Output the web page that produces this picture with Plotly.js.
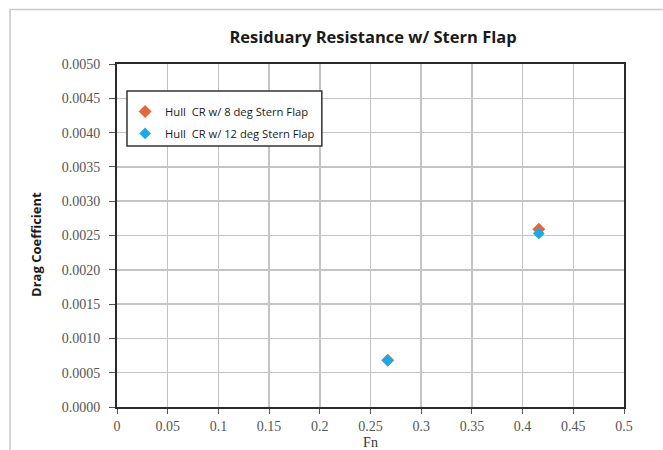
<!DOCTYPE html>
<html>
<head>
<meta charset="utf-8">
<script src="https://cdn.plot.ly/plotly-3.0.1.min.js"></script>
<style>html,body{margin:0;padding:0;background:#fff;}#chart{width:663px;height:450px;}</style>
</head>
<body>
<div id="chart"></div>
<script>
const seriesNames = ["Hull  CR w/ 8 deg Stern Flap", "Hull  CR w/ 12 deg Stern Flap"];
const fn8 = [0.267, 0.416];
const cd8 = [0.00068, 0.00259];
const fn12 = [0.267, 0.416];
const cd12 = [0.00068, 0.00253];
const xTicks = [0, 0.05, 0.1, 0.15, 0.2, 0.25, 0.3, 0.35, 0.4, 0.45, 0.5];
const xTickText = ["0", "0.05", "0.1", "0.15", "0.2", "0.25", "0.3", "0.35", "0.4", "0.45", "0.5"];
const yTicks = [0, 0.0005, 0.001, 0.0015, 0.002, 0.0025, 0.003, 0.0035, 0.004, 0.0045, 0.005];

const serif = "'Liberation Serif', 'DejaVu Serif', serif";
const sans = "'Open Sans', 'Noto Sans', sans-serif";

const traces = [
  {x: fn8, y: cd8, name: seriesNames[0], legendgroup: "g1", mode: "markers", type: "scatter",
   marker: {symbol: "diamond", size: 10, color: "#E2693A"}},
  {x: fn12, y: cd12, name: seriesNames[1], legendgroup: "g2", mode: "markers", type: "scatter",
   marker: {symbol: "diamond", size: 9, color: "#1CA9E6"}}
];

const layout = {
  width: 663, height: 450,
  margin: {l: 117, r: 39, t: 64, b: 43},
  paper_bgcolor: "#fff", plot_bgcolor: "#fff",
  title: {text: "<b>Residuary Resistance w/ Stern Flap</b>", font: {family: sans, size: 16.5, color: "#1a1a1a"},
          x: 0.505, xref: "paper", xanchor: "center", y: 0.918, yanchor: "middle"},
  xaxis: {range: [0, 0.5], tickvals: xTicks, ticktext: xTickText, showgrid: true, gridcolor: "#c4c4c4", gridwidth: 1.5,
          zeroline: false, showline: true, linecolor: "#2a2a2a", linewidth: 2, mirror: true,
          ticks: "outside", ticklen: 5, tickcolor: "#555", tickwidth: 1,
          tickfont: {family: serif, size: 14, color: "#555"},
          title: {text: "Fn", font: {family: serif, size: 14, color: "#333"}, standoff: 4}},
  yaxis: {range: [0, 0.005], tickvals: yTicks, tickformat: ".4f", showgrid: true, gridcolor: "#c4c4c4", gridwidth: 1.5,
          zeroline: false, showline: true, linecolor: "#2a2a2a", linewidth: 2, mirror: true,
          ticks: "outside", ticklen: 6, tickcolor: "#555", tickwidth: 1, ticklabelstandoff: 6,
          tickfont: {family: serif, size: 14, color: "#555"}},
  annotations: [{text: "<b>Drag Coefficient</b>", textangle: -90, xref: "paper", yref: "paper",
                 x: -0.16, y: 0.475, xanchor: "center", yanchor: "middle", showarrow: false,
                 font: {family: sans, size: 13, color: "#1a1a1a"}}],
  showlegend: true,
  legend: {x: 0.016, y: 0.904, xanchor: "left", yanchor: "top", bgcolor: "rgba(0,0,0,0)",
           borderwidth: 0, font: {family: sans, size: 11.2, color: "#1a1a1a"},
           itemwidth: 30, tracegroupgap: 3},
  shapes: [
    {type: "rect", xref: "paper", yref: "paper", x0: -0.211, x1: 1.3, y0: -0.3, y1: 1.159,
     line: {color: "#c8c8c8", width: 1.5}, fillcolor: "rgba(0,0,0,0)", layer: "below"},
    {type: "rect", xref: "paper", yref: "paper", x0: 0.0197, x1: 0.404, y0: 0.761, y1: 0.921,
     line: {color: "#333", width: 1.5}, fillcolor: "#fff", layer: "above"}
  ]
};

Plotly.newPlot("chart", traces, layout, {displayModeBar: false, staticPlot: true});
</script>
</body>
</html>
